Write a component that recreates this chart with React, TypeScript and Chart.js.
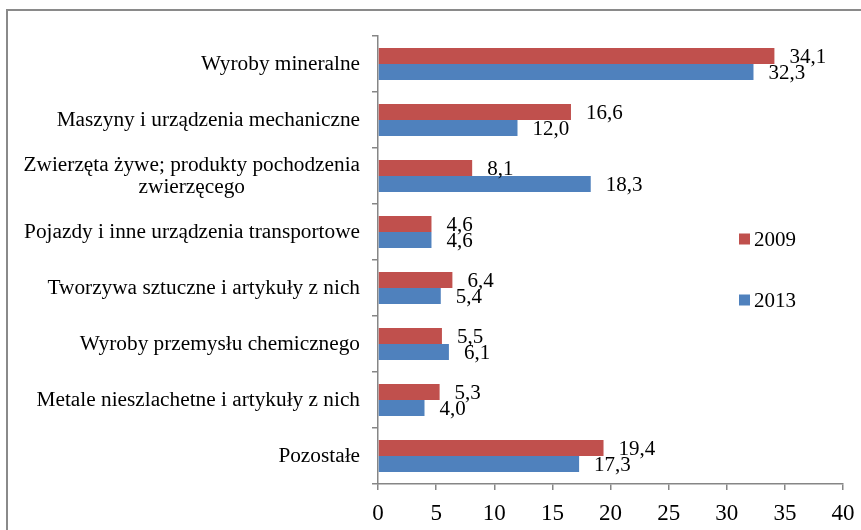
import React, { useEffect, useRef } from 'react';
import { Chart, registerables } from 'chart.js';

Chart.register(...registerables);

const categories: string[][] = [
  ['Wyroby mineralne'],
  ['Maszyny i urządzenia mechaniczne'],
  ['Zwierzęta żywe; produkty pochodzenia', 'zwierzęcego'],
  ['Pojazdy i inne urządzenia transportowe'],
  ['Tworzywa sztuczne i artykuły z nich'],
  ['Wyroby przemysłu chemicznego'],
  ['Metale nieszlachetne i artykuły z nich'],
  ['Pozostałe'],
];
const values2009 = [34.1, 16.6, 8.1, 4.6, 6.4, 5.5, 5.3, 19.4];
const values2013 = [32.3, 12.0, 18.3, 4.6, 5.4, 6.1, 4.0, 17.3];
const seriesNames = ['2009', '2013'];
const seriesColors = ['#C0504D', '#4F81BD'];
const xMin = 0;
const xMax = 40;
const xStep = 5;

const FONT = '"Liberation Serif", "Times New Roman", serif';

const valueLabels = {
  id: 'valueLabels',
  afterDatasetsDraw(chart: any) {
    const ctx = chart.ctx;
    ctx.save();
    ctx.font = `21px ${FONT}`;
    ctx.fillStyle = '#000';
    ctx.textAlign = 'left';
    ctx.textBaseline = 'middle';
    chart.data.datasets.forEach((ds: any, di: number) => {
      const meta = chart.getDatasetMeta(di);
      meta.data.forEach((bar: any, i: number) => {
        const v = ds.data[i] as number;
        ctx.fillText(v.toFixed(1).replace('.', ','), bar.x + 15, bar.y + 1.5);
      });
    });
    ctx.restore();
  },
};

const categoryLabels = {
  id: 'categoryLabels',
  afterDraw(chart: any) {
    const ctx = chart.ctx;
    const yScale = chart.scales.y;
    const right = chart.chartArea.left - 18;
    ctx.save();
    ctx.font = `21.3px ${FONT}`;
    ctx.fillStyle = '#000';
    ctx.textBaseline = 'middle';
    ctx.textAlign = 'center';
    const lh = 22;
    categories.forEach((lines, i) => {
      const cy = yScale.getPixelForValue(i);
      const w = Math.max(...lines.map((l) => ctx.measureText(l).width));
      const cx = right - w / 2;
      const y0 = cy - ((lines.length - 1) * lh) / 2;
      lines.forEach((l, k) => ctx.fillText(l, cx, y0 + k * lh));
    });
    ctx.restore();
  },
};

const customLegend = {
  id: 'customLegend',
  afterDraw(chart: any) {
    const ctx = chart.ctx;
    const ca = chart.chartArea;
    ctx.save();
    ctx.font = `21px ${FONT}`;
    ctx.textBaseline = 'middle';
    ctx.textAlign = 'left';
    const x = ca.left + 361;
    const ys = [ca.top + 203, ca.top + 264];
    seriesNames.forEach((name, i) => {
      ctx.fillStyle = seriesColors[i];
      ctx.fillRect(x, ys[i] - 5.5, 11, 11);
      ctx.fillStyle = '#000';
      ctx.fillText(name, x + 15, ys[i] + 1);
    });
    ctx.restore();
  },
};

export default function App() {
  const ref = useRef<HTMLCanvasElement>(null);
  useEffect(() => {
    if (!ref.current) return;
    const chart = new Chart(ref.current, {
      type: 'bar',
      data: {
        labels: categories.map((c) => c.join(' ')),
        datasets: [
          {
            label: seriesNames[0],
            data: values2009,
            backgroundColor: seriesColors[0],
            categoryPercentage: 32 / 56,
            barPercentage: 1,
          },
          {
            label: seriesNames[1],
            data: values2013,
            backgroundColor: seriesColors[1],
            categoryPercentage: 32 / 56,
            barPercentage: 1,
          },
        ],
      },
      options: {
        indexAxis: 'y',
        responsive: false,
        animation: false,
        layout: { padding: { top: 25, right: 18, left: 0, bottom: 0 } },
        plugins: {
          legend: { display: false },
          tooltip: { enabled: false },
        },
        scales: {
          x: {
            min: xMin,
            max: xMax,
            ticks: {
              stepSize: xStep,
              color: '#000',
              font: { family: FONT, size: 23 },
              padding: 10,
            },
            grid: {
              drawOnChartArea: false,
              drawTicks: true,
              tickLength: 6,
              color: '#868686',
              lineWidth: 1.5,
            },
            border: { color: '#868686', width: 1.5 },
            afterFit(scale: any) {
              scale.height = 46;
              scale.paddingLeft = 0;
              scale.paddingRight = 0;
            },
          },
          y: {
            ticks: { display: false },
            grid: {
              offset: true,
              drawOnChartArea: false,
              drawTicks: true,
              tickLength: 6,
              color: '#868686',
              lineWidth: 1.5,
            },
            border: { color: '#868686', width: 1.5 },
            afterFit(scale: any) {
              scale.width = 370;
              scale.paddingTop = 0;
              scale.paddingBottom = 0;
            },
          },
        },
      },
      plugins: [valueLabels, categoryLabels, customLegend],
    });
    return () => chart.destroy();
  }, []);

  return (
    <div
      style={{
        position: 'absolute',
        left: 6,
        top: 9,
        width: 853,
        height: 519,
        borderTop: '2px solid #8a8a8a',
        borderLeft: '2px solid #8a8a8a',
      }}
    >
      <canvas ref={ref} width={853} height={519} style={{ display: 'block', width: 853, height: 519 }} />
    </div>
  );
}
